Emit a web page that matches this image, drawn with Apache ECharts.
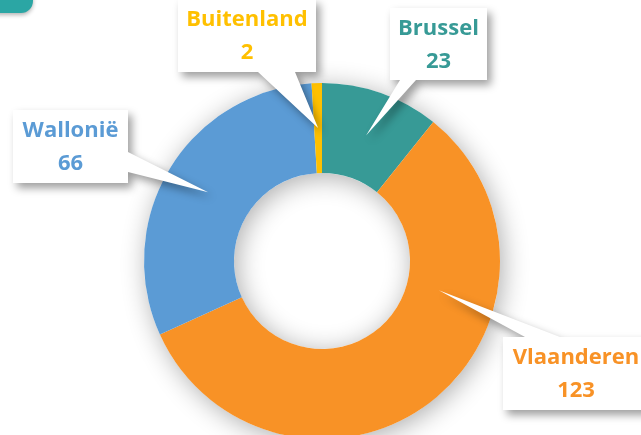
<!DOCTYPE html>
<html><head><meta charset="utf-8">
<script src="https://cdn.jsdelivr.net/npm/echarts@6/dist/echarts.min.js"></script>
<style>html,body{margin:0;padding:0;background:#fff;overflow:hidden}#c{width:641px;height:435px}</style>
</head><body><div id="c"></div>
<script>
// ---- data ----
const regions = ['Brussel', 'Vlaanderen', 'Wallonië', 'Buitenland'];
const counts = [23, 123, 66, 2];
const colors = ['#379A96', '#F89226', '#5B9BD5', '#FFC000'];

// ---- callout box layout (style only, pixels) ----
const boxes = [
  {x: 390, y: 8,   w: 97,  h: 72, edge: 'bottom', base: [10, 26], tip: [0.5, 0.5]},
  {x: 503, y: 337, w: 146, h: 73, edge: 'top',    base: [22, 57], tip: [0.316, 0.36]},
  {x: 13,  y: 110, w: 115, h: 73, edge: 'right',  base: [42, 62], tip: [0.5, 0.5]},
  {x: 178, y: -1,  w: 138, h: 73, edge: 'bottom', base: [80, 117], tip: [0.5, 0.5]}
];
const CENTER = [322, 261];
const RADIUS = [88, 178];

const chart = echarts.init(document.getElementById('c'), null, {renderer: 'canvas'});

const baseData = regions.map((n, i) => ({name: n, value: counts[i], itemStyle: {color: colors[i]}}));
const labelData = regions.map((n, i) => ({name: n, value: counts[i], itemStyle: {color: 'rgba(0,0,0,0)'}, label: {color: colors[i]}}));

chart.setOption({
  animation: false,
  backgroundColor: '#ffffff',
  series: [
    {
      type: 'pie', z: 2, center: CENTER, radius: RADIUS, startAngle: 90, clockwise: true,
      silent: true, label: {show: false}, labelLine: {show: false},
      itemStyle: {borderWidth: 0},
      emphasis: {disabled: true},
      data: baseData
    },
    {
      type: 'pie', z: 10, center: CENTER, radius: RADIUS, startAngle: 90, clockwise: true,
      silent: true, emphasis: {disabled: true},
      labelLine: {show: false},
      label: {
        show: true, formatter: '{b}\n{c}', fontFamily: 'Open Sans', fontWeight: 'bold',
        fontSize: 22, lineHeight: 33
      },
      labelLayout: function (p) {
        const b = boxes[p.dataIndex];
        return {x: b.x + b.w / 2, y: b.y + b.h / 2 + 1, align: 'center', verticalAlign: 'middle'};
      },
      data: labelData
    }
  ]
});

// build callouts from the pie's own layout
const data = chart.getModel().getSeriesByIndex(0).getData();
const graphics = [];
let ringLayout = null;
boxes.forEach((b, i) => {
  const L = data.getItemLayout(i);
  ringLayout = L;
  const a = L.startAngle + (L.endAngle - L.startAngle) * b.tip[0];
  const rr = L.r0 + (L.r - L.r0) * b.tip[1];
  const tip = [L.cx + rr * Math.cos(a), L.cy + rr * Math.sin(a)];
  const x = b.x, y = b.y, w = b.w, h = b.h, b0 = b.base[0], b1 = b.base[1];
  const pts = [[x, y]];
  if (b.edge === 'top') pts.push([x + b0, y], tip, [x + b1, y]);
  pts.push([x + w, y]);
  if (b.edge === 'right') pts.push([x + w, y + b0], tip, [x + w, y + b1]);
  pts.push([x + w, y + h]);
  if (b.edge === 'bottom') pts.push([x + b1, y + h], tip, [x + b0, y + h]);
  pts.push([x, y + h]);
  if (b.edge === 'left') pts.push([x, y + b1], tip, [x, y + b0]);
  graphics.push({
    type: 'polygon', z: 5, silent: true,
    shape: {points: pts},
    style: {fill: '#ffffff', shadowBlur: 8, shadowOffsetX: 4, shadowOffsetY: 5, shadowColor: 'rgba(0,0,0,0.38)'}
  });
});
graphics.push({
  type: 'ring', z: 1, silent: true,
  shape: {cx: ringLayout.cx, cy: ringLayout.cy, r: ringLayout.r, r0: ringLayout.r0},
  style: {fill: '#ffffff', shadowBlur: 26, shadowOffsetX: 3, shadowOffsetY: 4, shadowColor: 'rgba(0,0,0,0.32)'}
});
graphics.push({
  type: 'rect', z: 5, silent: true,
  shape: {x: -20, y: -20, width: 53, height: 33, r: 12},
  style: {fill: '#2BA6A4', shadowBlur: 4, shadowOffsetY: 2, shadowColor: 'rgba(0,0,0,0.3)'}
});
chart.setOption({graphic: {elements: graphics}});
</script>
</body></html>
